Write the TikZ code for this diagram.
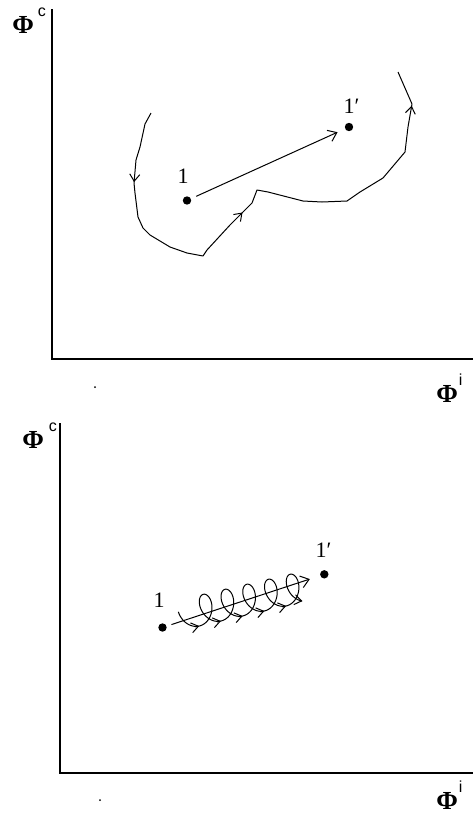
\documentclass[tikz,border=0pt]{standalone}
\usepackage{fontspec}
\setmainfont{Liberation Serif}
\setsansfont{Liberation Sans}
\usetikzlibrary{arrows.meta, decorations.markings}
\newcommand{\phiaxis}[2]{{\bfseries\fontsize{13}{13}\selectfont Φ}\kern#2\raisebox{8.5pt}{\sffamily\fontsize{8}{8}\selectfont #1}}

\begin{document}
\begin{tikzpicture}[
    x=0.5pt, y=-0.5pt,
    axis/.style={line width=1.2pt},
    dot/.style={circle, fill, inner sep=0pt, minimum size=4.2pt},
    num/.style={inner sep=0pt, anchor=base, font=\fontsize{11}{11}\selectfont},
    axlbl/.style={inner sep=0pt, anchor=base west},
    barb/.tip={Straight Barb[length=3.5pt, width=5pt]},
    arr/.style={-{Straight Barb[length=4pt, width=6pt]}, line width=0.5pt},
    track/.style={line width=0.5pt, line join=round},
    flowmarks/.style={postaction={decorate}, decoration={markings,
        mark=at position 0.137 with {\arrow{barb}},
        mark=at position 0.468 with {\arrow{barb}},
        mark=at position 0.930 with {\arrow{barb}}}},
  ]
  \useasboundingbox (0,0) rectangle (473,814);

  \draw[axis] (52,9) -- (52,359) -- (473,359);
  \node[axlbl] (yc1) at (12,33) {\phiaxis{c}{2pt}};
  \node[axlbl] (xi1) at (436,402) {\phiaxis{i}{0.5pt}};
  \fill (95,387) circle[radius=0.5pt];

  \node[dot] (a1) at (187,200.5) {};
  \node[dot] (a1p) at (349,127) {};
  \node[num] (a1lbl) at (183,183) {1};
  \node[num] (a1plbl) at (349,113) {1\rlap{′}};
  \draw[arr, shorten <=2.75pt, shorten >=4pt] (a1) -- (a1p);

  \draw[track, flowmarks] (151,113) -- (145,124) -- (140,147) -- (136,160)
    -- (134,183) -- (135,193) -- (138,217) -- (143,228) -- (150,235)
    -- (170,247) -- (187,253) -- (203,256) -- (207,250) -- (230,225)
    -- (252,203) -- (257,190) -- (268,192) -- (303,201) -- (322,202)
    -- (347,201) -- (360,192) -- (383,178) -- (405,152) -- (408,127)
    -- (412,104) -- (398,72);

  \draw[axis] (60,423) -- (60,773) -- (473,773);
  \node[axlbl] (yc2) at (22,448) {\phiaxis{c}{2.5pt}};
  \node[axlbl] (xi2) at (436,809) {\phiaxis{i}{0.5pt}};
  \fill (100,800) circle[radius=0.5pt];

  \node[dot] (b1) at (162.5,627.5) {};
  \node[dot] (b1p) at (324.3,574.3) {};
  \node[num] (b1lbl) at (159,607) {1};
  \node[num] (b1plbl) at (321,557) {1\rlap{′}};
  \draw[arr, shorten <=2.4pt, shorten >=5.3pt] (b1) -- (b1p);

  \begin{scope}[shift={(206.7,608.9)}, rotate=13]
    \draw[track, -barb] plot[domain=-4.95:27.9, samples=400, smooth]
      ({3.55*\x - 11*sin(\x r)}, {-15*cos(\x r)});
    \foreach \k in {-1,1,3,5,7}
      \draw[track, -barb] ({3.55*(\k)*pi - 4}, 15) -- ({3.55*(\k)*pi}, 15);
  \end{scope}
\end{tikzpicture}
\end{document}
